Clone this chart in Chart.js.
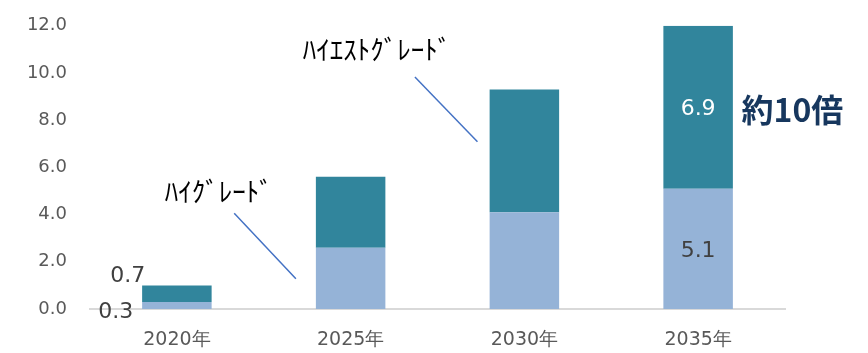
<!DOCTYPE html>
<html>
<head>
<meta charset="utf-8">
<script src="https://cdn.jsdelivr.net/npm/chart.js@4.4.0/dist/chart.umd.min.js"></script>
<style>
html, body { margin: 0; padding: 0; background: #fff; }
#wrap { width: 868px; height: 353px; }
</style>
</head>
<body>
<div id="wrap"><canvas id="myChart"></canvas></div>
<script>
const years = ['2020年', '2025年', '2030年', '2035年'];
const highGrade = [0.3, 2.6, 4.1, 5.1];
const highestGrade = [0.7, 3.0, 5.2, 6.9];
const yMax = 12;
const yStep = 2;

// labels drawn on the bars: [dataset, index, mode]
const valueLabels = [
  [1, 0, 'left-top'],
  [0, 0, 'left-bottom'],
  [1, 3, 'center'],
  [0, 3, 'center']
];

// callouts in axis units (category index, y value)
const callouts = [
  { text: 'ﾊｲｸﾞﾚｰﾄﾞ', x: -0.07, y: 4.98, from: [0.33, 4.06], to: [0.685, 1.28] },
  { text: 'ﾊｲｴｽﾄｸﾞﾚｰﾄﾞ', x: 0.725, y: 11.0, from: [1.37, 9.83], to: [1.73, 7.09] }
];

const labelPlugin = {
  id: 'labels',
  afterDatasetsDraw(chart) {
    const ctx = chart.ctx;
    ctx.save();
    ctx.font = '22px "DejaVu Sans"';
    ctx.textBaseline = 'middle';
    valueLabels.forEach(([ds, i, mode]) => {
      const bar = chart.getDatasetMeta(ds).data[i];
      const val = chart.data.datasets[ds].data[i].toFixed(1);
      const left = bar.x - bar.width / 2;
      if (mode === 'left-top') {
        ctx.fillStyle = '#404040';
        ctx.textAlign = 'right';
        ctx.fillText(val, left + 3, bar.y - 9);
      } else if (mode === 'left-bottom') {
        ctx.fillStyle = '#404040';
        ctx.textAlign = 'right';
        ctx.fillText(val, left - 9, bar.base + 3);
      } else {
        ctx.fillStyle = ds === 1 ? '#ffffff' : '#404040';
        ctx.textAlign = 'center';
        ctx.fillText(val, bar.x, (bar.y + bar.base) / 2 + 2);
      }
    });
    ctx.restore();
  },
  afterDraw(chart) {
    const ctx = chart.ctx;
    const xs = chart.scales.x, ys = chart.scales.y;
    const step = xs.getPixelForValue(1) - xs.getPixelForValue(0);
    const px = v => xs.getPixelForValue(0) + v * step;
    const py = v => ys.getPixelForValue(v);
    ctx.save();
    callouts.forEach(c => {
      ctx.strokeStyle = '#4472c4';
      ctx.lineWidth = 1.5;
      ctx.beginPath();
      ctx.moveTo(px(c.from[0]), py(c.from[1]));
      ctx.lineTo(px(c.to[0]), py(c.to[1]));
      ctx.stroke();
      ctx.fillStyle = '#000';
      ctx.font = '27px "Noto Sans CJK JP"';
      ctx.textAlign = 'left';
      ctx.textBaseline = 'middle';
      ctx.fillText(c.text, px(c.x), py(c.y));
    });
    ctx.fillStyle = '#17375e';
    ctx.font = 'bold 32px "Noto Sans CJK JP"';
    ctx.textBaseline = 'middle';
    ctx.fillText('約10倍', px(3.25), py(8.42));
    ctx.restore();
  }
};

new Chart(document.getElementById('myChart'), {
  type: 'bar',
  data: {
    labels: years,
    datasets: [
      { label: 'ハイグレード', data: highGrade, backgroundColor: '#95b3d7' },
      { label: 'ハイエストグレード', data: highestGrade, backgroundColor: '#31859c' }
    ]
  },
  options: {
    responsive: true,
    maintainAspectRatio: false,
    animation: false,
    categoryPercentage: 1,
    barPercentage: 0.4,
    layout: { padding: { left: 0, right: 83, top: 25, bottom: 0 } },
    plugins: { legend: { display: false }, tooltip: { enabled: false } },
    scales: {
      x: {
        stacked: true,
        grid: { display: false },
        border: { color: '#d9d9d9', width: 2 },
        ticks: { color: '#595959', font: { family: 'DejaVu Sans', size: 19 }, padding: 12 },
        afterFit(scale) { scale.height = 44; }
      },
      y: {
        stacked: true,
        min: 0,
        max: yMax,
        grid: { display: false },
        border: { display: false },
        ticks: {
          stepSize: yStep,
          color: '#595959',
          font: { family: 'DejaVu Sans', size: 18 },
          padding: 15,
          callback: v => v.toFixed(1)
        },
        afterFit(scale) { scale.width = 90; }
      }
    }
  },
  plugins: [labelPlugin]
});
</script>
</body>
</html>
